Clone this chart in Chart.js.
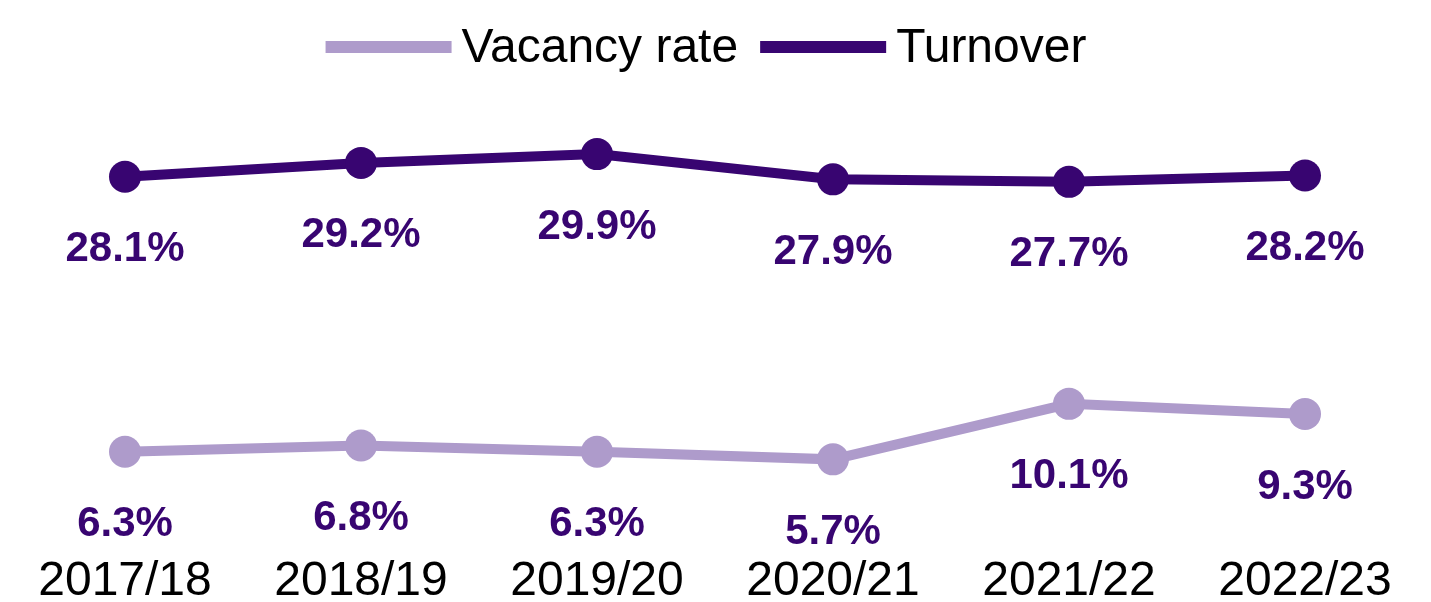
<!DOCTYPE html>
<html>
<head>
<meta charset="utf-8">
<script src="https://cdn.jsdelivr.net/npm/chart.js@4/dist/chart.umd.min.js"></script>
<style>
  html, body { margin: 0; padding: 0; background: #fff; }
  #wrap { width: 1431px; height: 602px; }
</style>
</head>
<body>
<div id="wrap"><canvas id="myChart"></canvas></div>
<script>
// data
var years = ["2017/18", "2018/19", "2019/20", "2020/21", "2021/22", "2022/23"];
var vacancy = [6.3, 6.8, 6.3, 5.7, 10.1, 9.3];
var turnover = [28.1, 29.2, 29.9, 27.9, 27.7, 28.2];

var darkPurple = "#380571";
var lightPurple = "#ae9bcb";
var fontFam = "'Liberation Sans', Arial, sans-serif";

// draws the value under each point
var pointLabels = {
  id: "pointLabels",
  afterDatasetsDraw: function(chart) {
    var ctx = chart.ctx;
    ctx.save();
    ctx.font = "bold 42px " + fontFam;
    ctx.fillStyle = darkPurple;
    ctx.textAlign = "center";
    ctx.textBaseline = "middle";
    chart.data.datasets.forEach(function(ds, i) {
      var meta = chart.getDatasetMeta(i);
      meta.data.forEach(function(pt, j) {
        ctx.fillText(ds.data[j].toFixed(1) + "%", pt.x, pt.y + 73);
      });
    });
    ctx.restore();
  }
};

// legend with long line swatches and a tight gap to the text
var lineLegend = {
  id: "lineLegend",
  afterDraw: function(chart) {
    var ctx = chart.ctx;
    var lineLen = 126, gap = 10, itemGap = 22;
    ctx.save();
    ctx.font = "48px " + fontFam;
    var items = chart.data.datasets.map(function(ds) {
      return { label: ds.label, color: ds.borderColor, w: ctx.measureText(ds.label).width };
    });
    var total = 0;
    items.forEach(function(it, i) {
      total += lineLen + gap + it.w + (i < items.length - 1 ? itemGap : 0);
    });
    var x = 706 - total / 2;
    items.forEach(function(it) {
      ctx.fillStyle = it.color;
      ctx.fillRect(x, 41, lineLen, 12);
      x += lineLen + gap;
      ctx.fillStyle = "#000";
      ctx.textBaseline = "alphabetic";
      ctx.fillText(it.label, x, 62);
      x += it.w + itemGap;
    });
    ctx.restore();
  }
};

var ctx = document.getElementById("myChart").getContext("2d");
var chart = new Chart(ctx, {
  type: "line",
  data: {
    labels: years,
    datasets: [{
      label: "Vacancy rate",
      data: vacancy,
      borderColor: lightPurple,
      backgroundColor: lightPurple,
      borderWidth: 10,
      pointRadius: 16,
      pointHoverRadius: 16,
      pointBorderWidth: 0
    }, {
      label: "Turnover",
      data: turnover,
      borderColor: darkPurple,
      backgroundColor: darkPurple,
      borderWidth: 10,
      pointRadius: 16,
      pointHoverRadius: 16,
      pointBorderWidth: 0
    }]
  },
  options: {
    responsive: true,
    maintainAspectRatio: false,
    animation: false,
    layout: { autoPadding: false, padding: { left: 7, right: 8, top: 90, bottom: -9 } },
    plugins: {
      legend: { display: false },
      tooltip: { enabled: false }
    },
    scales: {
      x: {
        offset: true,
        grid: { display: false },
        border: { display: false },
        ticks: {
          color: "#000",
          padding: 0,
          maxRotation: 0,
          font: { family: fontFam, size: 48 }
        }
      },
      y: {
        display: false,
        min: -1.12,
        max: 34.98
      }
    }
  },
  plugins: [pointLabels, lineLegend]
});
</script>
</body>
</html>
